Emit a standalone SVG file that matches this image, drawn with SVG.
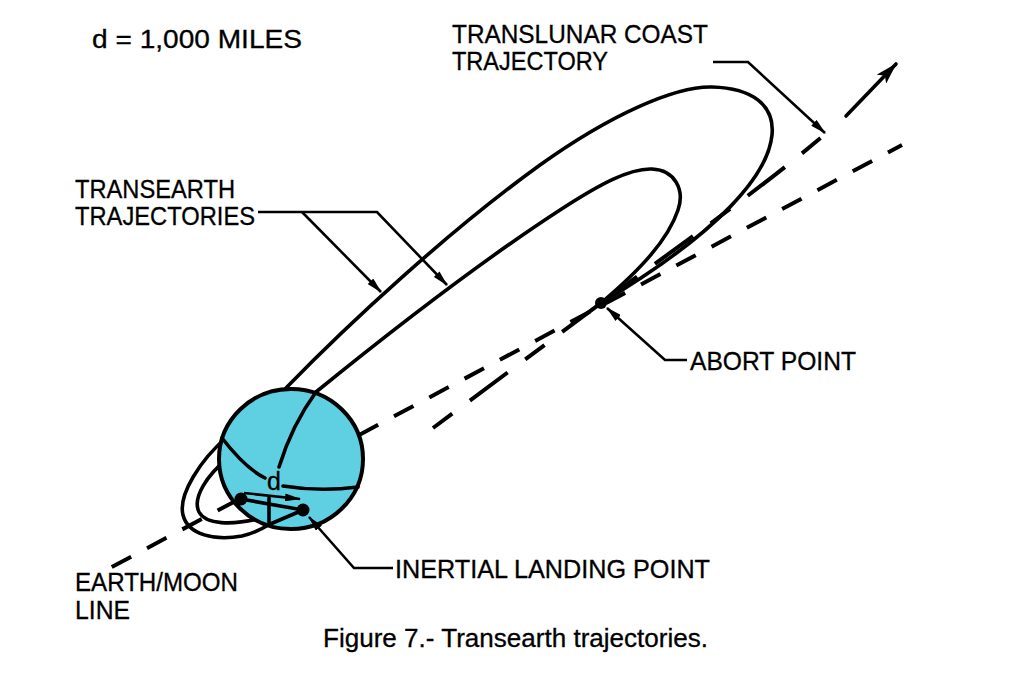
<svg xmlns="http://www.w3.org/2000/svg" width="1026" height="681" viewBox="0 0 1026 681">
<defs>
<style>
.ln{fill:none;stroke:#000;stroke-width:3.6;stroke-linecap:round;stroke-linejoin:round}
.ld{fill:none;stroke:#000;stroke-width:2.6;stroke-linejoin:miter}
.em{fill:none;stroke:#000;stroke-width:4;stroke-dasharray:22 18;stroke-dashoffset:38}
.tl{fill:none;stroke:#000;stroke-width:4;stroke-dasharray:24 22 47 22}
.tx{font-family:"Liberation Sans",Arial,sans-serif;font-size:25px;fill:#000;stroke:#000;stroke-width:0.3}
.dot{fill:#000}
</style>
<marker id="arr" viewBox="0 0 16 8" refX="15" refY="4" markerWidth="16" markerHeight="8" markerUnits="userSpaceOnUse" orient="auto">
<path d="M0,0 L16,4 L0,8 z" fill="#000"/>
</marker>
<marker id="arrBig" viewBox="0 0 22 13" refX="21" refY="6.5" markerWidth="22" markerHeight="13" markerUnits="userSpaceOnUse" orient="auto">
<path d="M0,0 L22,6.5 L0,13 L5,6.5 z" fill="#000"/>
</marker>
</defs>
<rect width="1026" height="681" fill="#fff"/>

<g id="earth-moon-line">
<line class="em" x1="110" y1="568" x2="902" y2="145"/>
</g>

<g id="translunar-trajectory">
<path class="tl" d="M433,428 L601,303 C680,245 760,190 830,130"/>
<line class="ln" x1="846" y1="116" x2="896" y2="64" marker-end="url(#arrBig)"/>
</g>

<g id="transearth-trajectories">
<path class="ln" d="M286,388 C350,322 450,230 540,165 C610,115 675,86 712,87 C752,88 775,105 772,135 C768,175 720,232 601,303"/>
<path class="ln" d="M316,392 C380,340 480,262 560,210 C600,184 630,168 652,169 C675,170 685,190 678,210 C668,240 640,270 601,303"/>
<path class="ln" d="M228,436 C200,460 178,495 183,515 C188,535 215,541 242,536 C255,533 262,529 270,524"/>
<path class="ln" d="M228,458 C207,475 192,498 199,512 C206,525 232,525 258,519"/>
</g>

<g id="earth">
<ellipse cx="291" cy="459" rx="72" ry="70" fill="#5FCFE2" stroke="#000" stroke-width="4"/>
<path class="ln" d="M316,392 Q292,425 279,467"/>
<path class="ln" d="M222,438 Q245,468 265,478"/>
<path class="ln" d="M283,486 Q320,492 358,487"/>
<path class="ln" d="M268,525 L303,510"/>
<line class="ln" x1="269" y1="498" x2="269" y2="524"/>
<line class="ln" x1="241" y1="499" x2="303" y2="510"/>
<line class="ld" x1="244" y1="493" x2="300" y2="499" marker-end="url(#arr)"/>
<circle class="dot" cx="241" cy="499" r="6.5"/>
<circle class="dot" cx="303" cy="510" r="6.5"/>
<text class="tx" x="267" y="490" font-size="23" stroke-width="0">d</text>
</g>

<g id="abort-point">
<circle class="dot" cx="601" cy="303" r="6"/>
</g>

<g id="connectors">
<path class="ld" d="M713,62 L748,62 L825,133" marker-end="url(#arr)"/>
<path class="ld" d="M258,212 L377,212 L447,285" marker-end="url(#arr)"/>
<path class="ld" d="M302,212 L381,292" marker-end="url(#arr)"/>
<path class="ld" d="M687,360 L665,360 L607,308" marker-end="url(#arr)"/>
<path class="ld" d="M393,568 L354,568 L309,517" marker-end="url(#arr)"/>
</g>

<g id="labels">
<text class="tx" x="92" y="48" textLength="210" lengthAdjust="spacingAndGlyphs">d = 1,000 MILES</text>
<text class="tx" x="452" y="43" textLength="256" lengthAdjust="spacingAndGlyphs">TRANSLUNAR COAST</text>
<text class="tx" x="452" y="70" textLength="156" lengthAdjust="spacingAndGlyphs">TRAJECTORY</text>
<text class="tx" x="75" y="198" textLength="160" lengthAdjust="spacingAndGlyphs">TRANSEARTH</text>
<text class="tx" x="75" y="225" textLength="180" lengthAdjust="spacingAndGlyphs">TRAJECTORIES</text>
<text class="tx" x="690" y="370" textLength="166" lengthAdjust="spacingAndGlyphs">ABORT POINT</text>
<text class="tx" x="395" y="578" font-size="27" textLength="315" lengthAdjust="spacingAndGlyphs">INERTIAL LANDING POINT</text>
<text class="tx" x="75" y="591" textLength="163" lengthAdjust="spacingAndGlyphs">EARTH/MOON</text>
<text class="tx" x="75" y="619" textLength="55" lengthAdjust="spacingAndGlyphs">LINE</text>
<text class="tx" x="323" y="647" font-size="25" textLength="385" lengthAdjust="spacingAndGlyphs">Figure 7.- Transearth trajectories.</text>
</g>
</svg>
